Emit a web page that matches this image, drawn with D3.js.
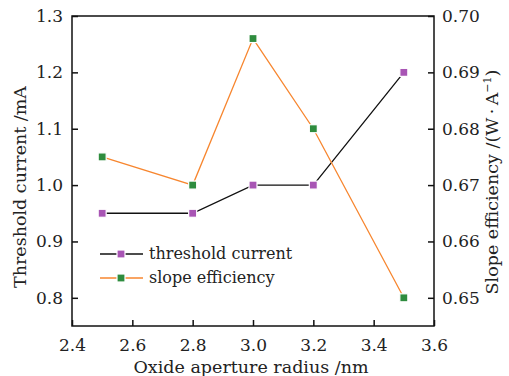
<!DOCTYPE html>
<html>
<head>
<meta charset="utf-8">
<script src="https://cdn.jsdelivr.net/npm/d3@7"></script>
<style>
  body { margin: 0; background: #fff; }
  text { font-family: "DejaVu Serif", "Liberation Serif", "Times New Roman", serif; fill: #222; }
</style>
</head>
<body>
<svg id="chart" width="509" height="376"></svg>
<script>
// data
const radius = [2.5, 2.8, 3.0, 3.2, 3.5];
const thresholdCurrent = [0.95, 0.95, 1.0, 1.0, 1.2];
const slopeEfficiency = [0.675, 0.67, 0.696, 0.68, 0.65];
const xTicks = [2.4, 2.6, 2.8, 3.0, 3.2, 3.4, 3.6];
const leftTicks = [0.8, 0.9, 1.0, 1.1, 1.2, 1.3];
const rightTicks = [0.65, 0.66, 0.67, 0.68, 0.69, 0.70];

const svg = d3.select("#chart"),
      m = { left: 72, right: 434, top: 16, bottom: 326 },
      serif = '"DejaVu Serif", "Liberation Serif", serif';

let x = d3.scaleLinear().domain([2.4, 3.6]).range([m.left, m.right]),
    yL = d3.scaleLinear().domain([0.75, 1.3]).range([m.bottom, m.top]),
    yR = d3.scaleLinear().domain([0.645, 0.70]).range([m.bottom, m.top]);

// frame
svg.append("rect")
  .attr("x", m.left).attr("y", m.top)
  .attr("width", m.right - m.left).attr("height", m.bottom - m.top)
  .attr("fill", "none").attr("stroke", "#111").attr("stroke-width", 1.5);

let styleAxis = (g) => {
  g.attr("font-family", serif).attr("font-size", 17);
  g.select(".domain").remove();
  g.selectAll(".tick line").attr("stroke", "#111").attr("stroke-width", 1.5);
  g.selectAll(".tick text")
    .style("font-family", serif)
    .style("font-size", "17px").attr("fill", "#222");
};

svg.append("g")
  .attr("transform", `translate(0,${m.bottom})`)
  .call(d3.axisBottom(x).tickValues(xTicks).tickFormat(d3.format(".1f"))
    .tickSizeInner(-6).tickSizeOuter(0).tickPadding(13))
  .call(styleAxis);

svg.append("g")
  .attr("transform", `translate(${m.left},0)`)
  .call(d3.axisLeft(yL).tickValues(leftTicks).tickFormat(d3.format(".1f"))
    .tickSizeInner(-6).tickSizeOuter(0).tickPadding(9))
  .call(styleAxis);

svg.append("g")
  .attr("transform", `translate(${m.right},0)`)
  .call(d3.axisRight(yR).tickValues(rightTicks).tickFormat(d3.format(".2f"))
    .tickSizeInner(-6).tickSizeOuter(0).tickPadding(8))
  .call(styleAxis);

// axis titles
svg.append("text")
  .attr("x", 251).attr("y", 373)
  .attr("text-anchor", "middle").style("font-size", "17.5px")
  .text("Oxide aperture radius /nm");

svg.append("text")
  .attr("transform", "translate(26,187) rotate(-90)")
  .attr("text-anchor", "middle").style("font-size", "17.5px")
  .text("Threshold current /mA");

let rt = svg.append("text")
  .attr("transform", "translate(498,182) rotate(-90)")
  .attr("text-anchor", "middle").style("font-size", "17.5px");
rt.append("tspan").text("Slope efficiency /(W\u2009\u00b7\u2009A");
rt.append("tspan").attr("dy", -7).style("font-size", "11px").text("\u22121");
rt.append("tspan").attr("dy", 7).text(")");

// series
const series = [
  { name: "threshold current", values: thresholdCurrent, y: yL, line: "#111", fill: "#a855b4" },
  { name: "slope efficiency", values: slopeEfficiency, y: yR, line: "#f7862f", fill: "#2e8c3e" }
];

series.forEach(s => {
  let pts = radius.map((r, i) => [x(r), s.y(s.values[i])]);
  svg.append("path")
    .attr("d", d3.line()(pts))
    .attr("fill", "none").attr("stroke", s.line).attr("stroke-width", 1.3);
  svg.append("g").selectAll("rect")
    .data(pts)
    .enter().append("rect")
    .attr("x", d => d[0] - 4).attr("y", d => d[1] - 4)
    .attr("width", 8).attr("height", 8)
    .attr("fill", s.fill).attr("stroke", "#fff").attr("stroke-width", 1.2);
});

// legend
let legend = svg.append("g");
series.forEach((s, i) => {
  let ly = 254 + i * 24;
  legend.append("line")
    .attr("x1", 100).attr("x2", 143).attr("y1", ly).attr("y2", ly)
    .attr("stroke", s.line).attr("stroke-width", 1.3);
  legend.append("rect")
    .attr("x", 117).attr("y", ly - 4).attr("width", 8).attr("height", 8)
    .attr("fill", s.fill).attr("stroke", "#fff").attr("stroke-width", 1.2);
  legend.append("text")
    .attr("x", 149).attr("y", ly + 5)
    .style("font-size", "16px")
    .text(s.name);
});
</script>
</body>
</html>
